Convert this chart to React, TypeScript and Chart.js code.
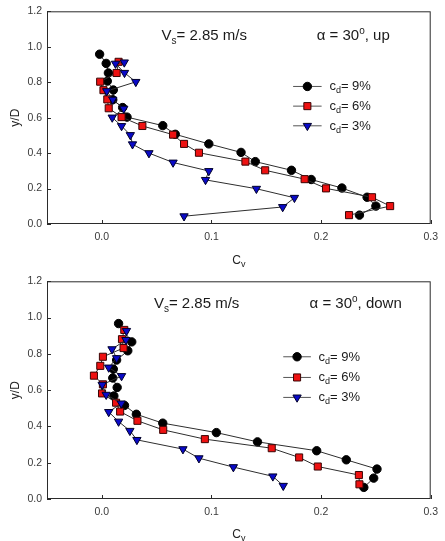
import { useEffect, useRef } from 'react';
import { Chart, registerables } from 'chart.js';
import { drawPoint } from 'chart.js/helpers';

Chart.register(...registerables);

const FONT = '"Liberation Sans", Arial, Helvetica, sans-serif';

// ---- α = 30°, up ----
const upDepth9 = [0.958, 0.906, 0.852, 0.806, 0.756, 0.701, 0.657, 0.603, 0.555, 0.506, 0.452, 0.404, 0.352, 0.303, 0.251, 0.203, 0.151, 0.101, 0.050];
const upCv9 = [-0.002, 0.004, 0.006, 0.005, 0.0105, 0.010, 0.019, 0.023, 0.0556, 0.067, 0.0976, 0.127, 0.140, 0.173, 0.191, 0.219, 0.242, 0.250, 0.235];

const upDepth6 = [0.915, 0.852, 0.803, 0.755, 0.703, 0.653, 0.603, 0.553, 0.504, 0.452, 0.402, 0.352, 0.303, 0.253, 0.201, 0.151, 0.101, 0.050];
const upCv6 = [0.0153, 0.0135, -0.0015, 0.0015, 0.005, 0.0063, 0.018, 0.037, 0.065, 0.075, 0.0886, 0.131, 0.149, 0.185, 0.2045, 0.2465, 0.263, 0.2255];

const upDepth3 = [0.912, 0.905, 0.853, 0.802, 0.750, 0.702, 0.651, 0.601, 0.553, 0.502, 0.450, 0.400, 0.347, 0.299, 0.249, 0.199, 0.148, 0.096, 0.044];
const upCv3 = [0.0205, 0.0125, 0.0207, 0.031, 0.0045, 0.010, 0.020, 0.0095, 0.018, 0.026, 0.028, 0.043, 0.065, 0.0976, 0.0946, 0.141, 0.1757, 0.165, 0.075];

// ---- α = 30°, down ----
const downDepth9 = [0.967, 0.866, 0.817, 0.766, 0.716, 0.667, 0.615, 0.568, 0.516, 0.467, 0.418, 0.366, 0.315, 0.266, 0.216, 0.165, 0.115, 0.064];
const downCv9 = [0.0153, 0.0273, 0.0237, 0.0135, 0.0105, 0.010, 0.014, 0.011, 0.0207, 0.0315, 0.0556, 0.1045, 0.142, 0.196, 0.223, 0.251, 0.248, 0.239];

const downDepth6 = [0.932, 0.881, 0.832, 0.784, 0.734, 0.680, 0.632, 0.582, 0.531, 0.482, 0.431, 0.381, 0.330, 0.280, 0.229, 0.179, 0.132, 0.081];
const downCv6 = [0.0205, 0.0184, 0.0198, 0.001, -0.0014, -0.0072, 0.001, 0.0002, 0.013, 0.0167, 0.0325, 0.056, 0.094, 0.155, 0.180, 0.197, 0.2345, 0.235];

const downDepth3 = [0.927, 0.877, 0.826, 0.777, 0.725, 0.678, 0.630, 0.575, 0.527, 0.480, 0.427, 0.376, 0.326, 0.275, 0.225, 0.176, 0.125, 0.073];
const downCv3 = [0.0225, 0.022, 0.0093, 0.0135, 0.0063, 0.018, 0.0003, 0.004, 0.0177, 0.0063, 0.0153, 0.0256, 0.032, 0.074, 0.0886, 0.120, 0.156, 0.1655];

const seriesLabels = ['9%', '6%', '3%'];
const xTickValues = [0, 0.1, 0.2, 0.3];
const yTickValues = [0, 0.2, 0.4, 0.6, 0.8, 1.0, 1.2];

const seriesStyles = [
  { pointStyle: 'circle', radius: 4.2, fill: '#000000', stroke: '#000000', rotation: 0 },
  { pointStyle: 'rect', radius: 5, fill: '#ee1111', stroke: '#3a0505', rotation: 0 },
  { pointStyle: 'triangle', radius: 4.8, fill: '#0a0ac8', stroke: '#00002a', rotation: 180 },
];

type Part = { text: string; size: number; dy: number };

function drawRich(ctx: CanvasRenderingContext2D, parts: Part[], x: number, y: number, color: string) {
  ctx.save();
  ctx.fillStyle = color;
  ctx.textAlign = 'left';
  ctx.textBaseline = 'alphabetic';
  let cx = x;
  for (const p of parts) {
    ctx.font = `${p.size}px ${FONT}`;
    ctx.fillText(p.text, cx, y + p.dy);
    cx += ctx.measureText(p.text).width;
  }
  ctx.restore();
}

function richWidth(ctx: CanvasRenderingContext2D, parts: Part[]) {
  let w = 0;
  ctx.save();
  for (const p of parts) {
    ctx.font = `${p.size}px ${FONT}`;
    w += ctx.measureText(p.text).width;
  }
  ctx.restore();
  return w;
}

type Decor = {
  flow: string;
  textY: number;
  vsX: number;
  alphaX: number;
  legendY: number[];
  legendLine: [number, number];
  legendTextX: number;
  titleBaseline: number;
};

const panelDecor = {
  id: 'panelDecor',
  afterDraw(chart: any, _args: any, opts: Decor) {
    const { ctx, chartArea } = chart;
    const xs = chart.scales.x;
    const ys = chart.scales.y;
    const { left, right, top, bottom } = chartArea;
    ctx.save();

    // frame
    ctx.strokeStyle = '#2b2b2b';
    ctx.lineWidth = 1;
    ctx.strokeRect(left + 0.5, top + 0.5, right - left - 1, bottom - top - 1);

    // inward tick marks
    ctx.beginPath();
    for (const v of xTickValues) {
      const px = Math.round(xs.getPixelForValue(v)) + 0.5;
      ctx.moveTo(px, bottom);
      ctx.lineTo(px, bottom - 4);
    }
    for (const v of yTickValues) {
      const py = Math.round(ys.getPixelForValue(v)) + 0.5;
      ctx.moveTo(left, py);
      ctx.lineTo(left + 4, py);
    }
    ctx.stroke();

    // run conditions
    const ty = ys.getPixelForValue(opts.textY);
    drawRich(ctx, [
      { text: 'V', size: 15, dy: 0 },
      { text: 's', size: 10, dy: 4 },
      { text: '= 2.85 m/s', size: 15, dy: 0 },
    ], xs.getPixelForValue(opts.vsX), ty, '#1a1a1a');
    drawRich(ctx, [
      { text: 'α = 30', size: 15, dy: 0 },
      { text: 'o', size: 10, dy: -6 },
      { text: `, ${opts.flow}`, size: 15, dy: 0 },
    ], xs.getPixelForValue(opts.alphaX), ty, '#1a1a1a');

    // legend
    const lx0 = xs.getPixelForValue(opts.legendLine[0]);
    const lx1 = xs.getPixelForValue(opts.legendLine[1]);
    const tx = xs.getPixelForValue(opts.legendTextX);
    seriesLabels.forEach((lab, i) => {
      const st = seriesStyles[i];
      const py = ys.getPixelForValue(opts.legendY[i]);
      ctx.strokeStyle = '#555555';
      ctx.lineWidth = 1;
      ctx.beginPath();
      ctx.moveTo(lx0, py);
      ctx.lineTo(lx1, py);
      ctx.stroke();
      ctx.fillStyle = st.fill;
      ctx.strokeStyle = st.stroke;
      ctx.lineWidth = 1;
      drawPoint(ctx, { pointStyle: st.pointStyle, radius: st.radius, rotation: st.rotation, borderWidth: 1 } as any, (lx0 + lx1) / 2, py);
      drawRich(ctx, [
        { text: 'c', size: 13, dy: 0 },
        { text: 'd', size: 9, dy: 3 },
        { text: `= ${lab}`, size: 13, dy: 0 },
      ], tx, py + 4, '#1a1a1a');
    });

    // axis titles
    ctx.save();
    ctx.translate(19, (top + bottom) / 2);
    ctx.rotate(-Math.PI / 2);
    ctx.font = `12px ${FONT}`;
    ctx.fillStyle = '#222222';
    ctx.textAlign = 'center';
    ctx.textBaseline = 'alphabetic';
    ctx.fillText('y/D', 0, 0);
    ctx.restore();

    const cvParts: Part[] = [
      { text: 'C', size: 12, dy: 0 },
      { text: 'v', size: 9, dy: 3 },
    ];
    const w = richWidth(ctx, cvParts);
    drawRich(ctx, cvParts, (left + right) / 2 - w / 2, opts.titleBaseline, '#222222');

    ctx.restore();
  },
};

type PanelProps = {
  depth: number[][];
  cv: number[][];
  height: number;
  padTop: number;
  padRight: number;
  axisLeft: number;
  axisBottom: number;
  decor: Decor;
};

function Panel(props: PanelProps) {
  const ref = useRef<HTMLCanvasElement | null>(null);

  useEffect(() => {
    if (!ref.current) return;
    const datasets = seriesLabels.map((lab, i) => {
      const st = seriesStyles[i];
      return {
        label: `c_d = ${lab}`,
        data: props.cv[i].map((x, k) => ({ x, y: props.depth[i][k] })),
        showLine: true,
        borderColor: '#2e2e2e',
        borderWidth: 1,
        tension: 0,
        pointStyle: st.pointStyle,
        pointRadius: st.radius,
        pointRotation: st.rotation,
        pointBackgroundColor: st.fill,
        pointBorderColor: st.stroke,
        pointBorderWidth: 1,
        order: 3 - i,
      };
    });

    const tickFont = { family: FONT, size: 10.5 };
    const chart = new Chart(ref.current, {
      type: 'scatter',
      data: { datasets } as any,
      options: {
        responsive: false,
        animation: false,
        devicePixelRatio: 1,
        layout: { padding: { top: props.padTop, right: props.padRight, left: 0, bottom: 0 } },
        plugins: {
          legend: { display: false },
          tooltip: { enabled: false },
          panelDecor: props.decor,
        } as any,
        scales: {
          x: {
            type: 'linear',
            min: -0.05,
            max: 0.3,
            grid: { display: false, drawTicks: false },
            border: { display: false },
            afterBuildTicks: (s: any) => {
              s.ticks = xTickValues.map((value) => ({ value }));
            },
            afterFit: (s: any) => {
              s.height = props.axisBottom;
            },
            ticks: {
              padding: 7,
              color: '#3a3a3a',
              font: tickFont,
              maxRotation: 0,
              autoSkip: false,
              callback: (v: any) => Number(v).toFixed(1),
            },
          },
          y: {
            type: 'linear',
            min: 0,
            max: 1.2,
            grid: { display: false, drawTicks: false },
            border: { display: false },
            afterBuildTicks: (s: any) => {
              s.ticks = yTickValues.map((value) => ({ value }));
            },
            afterFit: (s: any) => {
              s.width = props.axisLeft;
            },
            ticks: {
              padding: 5,
              color: '#3a3a3a',
              font: tickFont,
              autoSkip: false,
              callback: (v: any) => Number(v).toFixed(1),
            },
          },
        },
      } as any,
      plugins: [panelDecor as any],
    });
    return () => chart.destroy();
  }, []);

  return <canvas ref={ref} width={445} height={props.height} style={{ display: 'block', width: 445, height: props.height }} />;
}

export default function App() {
  return (
    <div style={{ position: 'absolute', left: 0, top: 0, width: 445, height: 541, background: '#ffffff', overflow: 'hidden' }}>
      <Panel
        depth={[upDepth9, upDepth6, upDepth3]}
        cv={[upCv9, upCv6, upCv3]}
        height={270}
        padTop={8}
        padRight={8}
        axisLeft={47}
        axisBottom={46}
        decor={{
          flow: 'up',
          textY: 1.04,
          vsX: 0.0544,
          alphaX: 0.196,
          legendY: [0.776, 0.665, 0.554],
          legendLine: [0.1745, 0.2005],
          legendTextX: 0.2076,
          titleBaseline: 264,
        }}
      />
      <Panel
        depth={[downDepth9, downDepth6, downDepth3]}
        cv={[downCv9, downCv6, downCv3]}
        height={271}
        padTop={10}
        padRight={9}
        axisLeft={47}
        axisBottom={42}
        decor={{
          flow: 'down',
          textY: 1.055,
          vsX: 0.0475,
          alphaX: 0.1895,
          legendY: [0.784, 0.67, 0.56],
          legendLine: [0.1655, 0.1907],
          legendTextX: 0.1976,
          titleBaseline: 268,
        }}
      />
    </div>
  );
}
